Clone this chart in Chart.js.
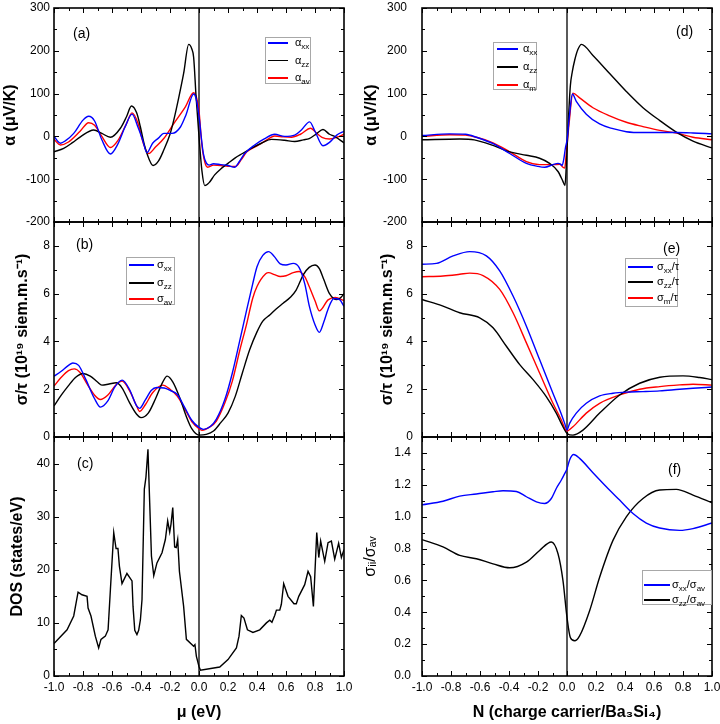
<!DOCTYPE html>
<html><head><meta charset="utf-8">
<script src="https://cdn.jsdelivr.net/npm/chart.js@4.4.0/dist/chart.umd.min.js"></script>
<style>
body{margin:0;background:#fff;}
#wrap{position:relative;width:720px;height:724px;overflow:hidden;font-family:'Liberation Sans',Arial,sans-serif;background:#fff;}
#wrap canvas{position:absolute;}
.leg{position:absolute;border:1px solid #a8a8a8;background:#fff;box-sizing:border-box;}
.leg .ln{position:absolute;height:1.8px;}
.leg .tx{position:absolute;line-height:14px;font-size:11px;white-space:nowrap;color:#000;}
.leg sub{font-size:8px;vertical-align:-3px;line-height:0;}
.plab{position:absolute;font-size:14px;line-height:16px;color:#000;}
</style></head>
<body><div id="wrap"></div>
<script>
// ---------- Panel (a): Seebeck coefficient vs chemical potential ----------
const a_xx_mu = [-1.0,-0.956,-0.92,-0.864,-0.8,-0.761,-0.72,-0.67,-0.611,-0.56,-0.51,-0.462,-0.42,-0.39,-0.359,-0.32,-0.28,-0.243,-0.186,-0.128,-0.09,-0.037,-0.02,0.0,0.015,0.03,0.05,0.07,0.1,0.15,0.2,0.245,0.28,0.315,0.384,0.45,0.522,0.591,0.66,0.706,0.763,0.8,0.855,0.9,0.95,1.0];
const a_xx    = [0,-16,-10,7,38,47,36,-8,-41,-18,22,52,21,-7,-38,-16,-4,7,7,22,50,99,88,48,0,-40,-62,-67,-64,-66,-68,-72,-58,-40,-20,-6,5,0,3,15,34,12,-22,-14,3,12];
const a_zz_mu = [-1.0,-0.933,-0.87,-0.818,-0.726,-0.67,-0.611,-0.542,-0.5,-0.466,-0.43,-0.404,-0.38,-0.359,-0.317,-0.28,-0.243,-0.2,-0.174,-0.14,-0.106,-0.071,-0.05,-0.037,-0.02,0.0,0.02,0.04,0.07,0.108,0.15,0.2,0.25,0.3,0.36,0.43,0.5,0.59,0.66,0.72,0.76,0.81,0.855,0.9,0.935,1.0];
const a_zz    = [-36,-28,-14,-1,15,7,-2,19,46,71,55,22,-15,-40,-68,-58,-32,5,38,90,147,215,205,185,92,0,-80,-115,-108,-90,-76,-63,-50,-40,-28,-16,-7,-9,-12,-8,-5,6,16,5,0,-15];
const a_av_mu = [-1.0,-0.956,-0.9,-0.82,-0.761,-0.72,-0.67,-0.611,-0.56,-0.5,-0.462,-0.42,-0.385,-0.348,-0.3,-0.243,-0.174,-0.094,-0.037,-0.015,0.0,0.02,0.04,0.06,0.1,0.15,0.2,0.253,0.29,0.33,0.4,0.46,0.522,0.58,0.637,0.7,0.77,0.81,0.848,0.9,0.95,1.0];
const a_av    = [-7,-20,-13,12,32,26,0,-26,-10,30,55,30,-15,-40,-25,-5,30,69,102,88,60,-20,-60,-72,-67,-68,-70,-70,-55,-36,-22,-10,1,-1,-2,5,19,8,-2,-6,-2,5];

// ---------- Panel (b): sigma/tau vs chemical potential ----------
const b_xx_mu = [-1.0,-0.95,-0.9,-0.87,-0.83,-0.78,-0.72,-0.68,-0.63,-0.58,-0.53,-0.48,-0.43,-0.41,-0.37,-0.33,-0.29,-0.24,-0.2,-0.15,-0.1,-0.05,0.0,0.03,0.08,0.12,0.18,0.23,0.28,0.33,0.37,0.4,0.44,0.48,0.52,0.56,0.6,0.65,0.69,0.73,0.76,0.8,0.83,0.86,0.89,0.93,0.97,1.0];
const b_xx    = [2.55,2.75,3.0,3.1,3.0,2.4,1.6,1.25,1.5,2.1,2.38,2.0,1.3,1.2,1.55,1.95,2.07,2.05,1.95,1.78,1.25,0.7,0.4,0.32,0.45,0.75,1.6,2.68,4.0,5.35,6.4,7.13,7.6,7.76,7.55,7.25,7.2,7.27,7.1,6.4,5.5,4.7,4.38,4.8,5.35,5.8,5.75,5.47];
const b_zz_mu = [-1.0,-0.95,-0.9,-0.85,-0.8,-0.75,-0.7,-0.67,-0.62,-0.57,-0.53,-0.48,-0.43,-0.4,-0.35,-0.3,-0.25,-0.22,-0.18,-0.13,-0.09,-0.05,0.0,0.05,0.1,0.15,0.2,0.25,0.3,0.35,0.4,0.44,0.49,0.53,0.58,0.63,0.67,0.72,0.76,0.8,0.83,0.86,0.9,0.95,0.98,1.0];
const b_zz    = [1.3,1.75,2.15,2.5,2.66,2.55,2.3,2.17,2.22,2.27,2.05,1.45,0.95,0.81,1.0,1.6,2.3,2.55,2.3,1.6,0.9,0.35,0.08,0.11,0.25,0.6,1.0,1.7,2.7,3.66,4.4,4.85,5.12,5.35,5.6,5.85,6.15,6.8,7.1,7.2,7.05,6.6,6.0,5.75,5.85,6.0];
const b_av_mu = [-1.0,-0.95,-0.9,-0.86,-0.82,-0.77,-0.72,-0.68,-0.63,-0.57,-0.53,-0.48,-0.43,-0.41,-0.37,-0.32,-0.25,-0.2,-0.15,-0.1,-0.05,0.0,0.02,0.07,0.12,0.18,0.23,0.28,0.33,0.37,0.4,0.46,0.48,0.52,0.56,0.6,0.65,0.69,0.73,0.76,0.8,0.83,0.89,0.94,1.0];
const b_av    = [2.13,2.5,2.78,2.85,2.7,2.2,1.75,1.57,1.75,2.2,2.34,1.95,1.3,1.07,1.35,1.85,2.17,2.0,1.71,1.2,0.65,0.35,0.28,0.4,0.67,1.45,2.34,3.6,4.77,5.8,6.3,6.83,6.88,6.8,6.72,6.75,6.88,6.93,6.7,6.3,5.7,5.28,5.74,5.84,5.71];

// ---------- Panel (c): density of states ----------
const dos_mu = [-1.0,-0.91,-0.864,-0.834,-0.807,-0.772,-0.765,-0.745,-0.715,-0.692,-0.676,-0.646,-0.627,-0.611,-0.588,-0.572,-0.559,-0.549,-0.531,-0.497,-0.462,-0.455,-0.443,-0.428,-0.416,-0.404,-0.393,-0.377,-0.366,-0.352,-0.34,-0.328,-0.312,-0.29,-0.255,-0.232,-0.216,-0.202,-0.193,-0.181,-0.168,-0.157,-0.147,-0.135,-0.106,-0.087,-0.037,-0.028,-0.018,0.0,0.01,0.143,0.2,0.258,0.276,0.292,0.31,0.334,0.372,0.419,0.465,0.488,0.503,0.522,0.534,0.557,0.568,0.584,0.614,0.655,0.671,0.688,0.729,0.752,0.77,0.789,0.812,0.826,0.839,0.867,0.89,0.913,0.936,0.963,0.982,1.0];
const dos    = [6.1,8.7,11.3,15.8,15.3,15.0,12.8,11.3,7.5,5.3,6.9,7.5,8.7,16.3,27.0,24.0,24.0,20.7,17.4,19.3,17.9,13.1,8.6,7.8,8.6,10.6,14.4,35.2,37.4,42.7,32.6,22.6,18.9,21.3,23.2,25.7,29.2,27.1,28.6,31.7,24.3,24.2,25.7,19.7,13.1,6.9,5.6,5.9,3.7,1.8,1.1,1.7,3.1,5.3,7.5,11.4,10.9,8.7,8.2,8.7,10.0,10.5,10.1,11.4,12.4,12.4,13.5,17.4,15.0,13.6,13.6,15.0,17.2,19.7,18.7,13.1,27.0,22.3,25.4,21.6,25.1,25.4,22.0,25.0,22.3,23.8];

// ---------- Panel (d): Seebeck vs carrier concentration ----------
const d_xx_N = [-1.0,-0.81,-0.7,-0.625,-0.51,-0.395,-0.28,-0.2,-0.154,-0.097,-0.062,-0.045,-0.034,-0.023,-0.01,0.0,0.018,0.037,0.064,0.133,0.225,0.317,0.409,0.524,0.64,0.754,0.869,1.0];
const d_xx   = [2,6,5,-2,-17,-40,-63,-70,-72,-66,-63,-65,-68,-55,-25,-9,52,99,82,52,29,18,11,9,9,9,8,6];
const d_zz_N = [-1.0,-0.74,-0.64,-0.51,-0.395,-0.28,-0.189,-0.12,-0.062,-0.028,-0.014,-0.005,0.007,0.023,0.037,0.053,0.075,0.1,0.179,0.294,0.409,0.524,0.64,0.754,0.869,1.0];
const d_zz   = [-8,-6,-8,-21,-36,-44,-51,-63,-82,-105,-115,-70,20,118,152,178,203,215,189,147,105,67,37,10,-11,-27];
const d_m_N  = [-1.0,-0.81,-0.7,-0.625,-0.51,-0.395,-0.28,-0.189,-0.097,-0.05,-0.028,-0.016,-0.005,0.014,0.041,0.087,0.179,0.294,0.409,0.524,0.64,0.754,0.869,1.0];
const d_m    = [0,4,3,-2,-15,-36,-59,-66,-66,-65,-72,-74,-40,29,101,90,67,48,33,23,14,8,-2,-8];

// ---------- Panel (e): sigma/tau vs carrier concentration ----------
const e_xx_N = [-1.0,-0.9,-0.786,-0.671,-0.556,-0.464,-0.372,-0.28,-0.189,-0.097,-0.05,-0.016,0.0,0.018,0.064,0.133,0.225,0.317,0.409,0.524,0.64,0.777,0.869,1.0];
const e_xx   = [7.23,7.27,7.58,7.76,7.58,6.95,5.9,4.64,3.24,1.83,1.13,0.57,0.29,0.57,1.0,1.41,1.72,1.83,1.88,1.9,1.93,2.0,2.04,2.09];
const e_zz_N = [-1.0,-0.855,-0.74,-0.602,-0.51,-0.418,-0.326,-0.234,-0.143,-0.074,-0.028,0.0,0.041,0.11,0.225,0.363,0.501,0.64,0.8,0.915,1.0];
const e_zz   = [5.76,5.48,5.2,4.99,4.57,3.8,3.03,2.4,1.69,1.0,0.43,0.15,0.08,0.29,1.0,1.76,2.25,2.5,2.56,2.49,2.4];
const e_m_N  = [-1.0,-0.855,-0.74,-0.671,-0.579,-0.464,-0.372,-0.28,-0.189,-0.097,-0.039,-0.009,0.0,0.041,0.133,0.225,0.363,0.501,0.64,0.777,0.869,1.0];
const e_m    = [6.71,6.74,6.81,6.86,6.76,6.18,5.2,3.94,2.68,1.41,0.71,0.29,0.25,0.43,1.0,1.41,1.76,2.0,2.11,2.18,2.21,2.17];

// ---------- Panel (f): anisotropy ratio ----------
const f_xx_N = [-1.0,-0.855,-0.74,-0.625,-0.51,-0.441,-0.349,-0.28,-0.211,-0.154,-0.108,-0.074,-0.039,-0.016,0.0,0.018,0.046,0.087,0.179,0.271,0.363,0.455,0.547,0.639,0.777,0.869,1.0];
const f_xx   = [1.074,1.097,1.129,1.142,1.156,1.163,1.158,1.125,1.093,1.083,1.114,1.177,1.23,1.27,1.30,1.356,1.39,1.366,1.276,1.188,1.104,1.02,0.96,0.929,0.914,0.925,0.96];
const f_zz_N = [-1.0,-0.855,-0.74,-0.625,-0.51,-0.395,-0.28,-0.189,-0.108,-0.062,-0.028,0.0,0.023,0.053,0.087,0.156,0.225,0.317,0.409,0.524,0.639,0.754,0.869,1.0];
const f_zz   = [0.856,0.81,0.757,0.736,0.704,0.679,0.715,0.788,0.841,0.767,0.6,0.368,0.242,0.221,0.252,0.41,0.62,0.851,0.999,1.114,1.167,1.171,1.135,1.087];

// ---------- Labels ----------
const legA = ['α<sub>xx</sub>','α<sub>zz</sub>','α<sub>av</sub>'];
const legB = ['σ<sub>xx</sub>','σ<sub>zz</sub>','σ<sub>av</sub>'];
const legD = ['α<sub>xx</sub>','α<sub>zz</sub>','α<sub>m</sub>'];
const legE = ['σ<sub>xx</sub>/τ','σ<sub>zz</sub>/τ','σ<sub>m</sub>/τ'];
const legF = ['σ<sub>xx</sub>/σ<sub>av</sub>','σ<sub>zz</sub>/σ<sub>av</sub>'];
const colors = ['#0000ff','#000000','#ff0000'];

const FONT = "'Liberation Sans', Arial, sans-serif";
const wrap = document.getElementById('wrap');
const zip = (xs, ys) => xs.map((x, i) => ({x: x, y: ys[i]}));

const frameTicks = {
  id: 'frameTicks',
  beforeDatasetsDraw(chart) {
    const {ctx, chartArea: a, scales: {x}} = chart;
    const x0 = x.getPixelForValue(0);
    ctx.save();
    ctx.strokeStyle = '#000'; ctx.lineWidth = 1.3;
    ctx.beginPath(); ctx.moveTo(x0, a.top); ctx.lineTo(x0, a.bottom); ctx.stroke();
    ctx.restore();
  },
  afterDatasetsDraw(chart, args, o) {
    const {ctx, chartArea: a, scales: {x, y}} = chart;
    ctx.save();
    ctx.strokeStyle = '#000'; ctx.lineWidth = 1;
    ctx.beginPath();
    const nx = Math.round((x.max - x.min) / o.xMinor);
    for (let i = 0; i <= nx; i++) {
      const v = x.min + i * o.xMinor;
      const r = v / o.xMajor; const maj = Math.abs(r - Math.round(r)) < 1e-6;
      const L = maj ? 5 : 3; const px = Math.round(x.getPixelForValue(v)) + 0.5;
      ctx.moveTo(px, a.bottom); ctx.lineTo(px, a.bottom - L);
      ctx.moveTo(px, a.top); ctx.lineTo(px, a.top + L);
    }
    const ny = Math.round((y.max - y.min) / o.yMinor);
    for (let i = 0; i <= ny; i++) {
      const v = y.min + i * o.yMinor;
      const r = v / o.yMajor; const maj = Math.abs(r - Math.round(r)) < 1e-6;
      const L = maj ? 5 : 3; const py = Math.round(y.getPixelForValue(v)) + 0.5;
      ctx.moveTo(a.left, py); ctx.lineTo(a.left + L, py);
      ctx.moveTo(a.right, py); ctx.lineTo(a.right - L, py);
    }
    ctx.stroke();
    ctx.lineWidth = 1.6;
    ctx.strokeRect(a.left, a.top, a.right - a.left, a.bottom - a.top);
    ctx.restore();
  }
};

function panel(c) {
  const cv = document.createElement('canvas');
  cv.width = c.w; cv.height = c.h;
  cv.style.left = c.left + 'px'; cv.style.top = c.top + 'px';
  cv.style.width = c.w + 'px'; cv.style.height = c.h + 'px';
  wrap.appendChild(cv);
  return new Chart(cv, {
    type: 'line',
    data: {datasets: c.series.map(s => ({
      label: s.label, data: zip(s.x, s.y), borderColor: s.color, backgroundColor: s.color,
      borderWidth: 1.4, pointRadius: 0, fill: false,
      cubicInterpolationMode: s.sharp ? 'default' : 'monotone', tension: 0
    }))},
    options: {
      responsive: false, animation: false, devicePixelRatio: 1,
      layout: {padding: c.pad},
      plugins: {legend: {display: false}, tooltip: {enabled: false},
        frameTicks: {xMinor: 0.1, xMajor: 0.2, yMinor: c.yMinor, yMajor: c.yStep}},
      scales: {
        x: {
          type: 'linear', min: -1, max: 1,
          grid: {display: false, drawTicks: false}, border: {display: false},
          ticks: {display: !!c.xTitle, stepSize: 0.2, includeBounds: false, padding: 4, maxRotation: 0, autoSkip: false,
            color: '#000', font: {family: FONT, size: 12},
            callback: v => (Math.abs(v) < 1e-9 ? 0 : v).toFixed(1)},
          title: {display: !!c.xTitle, text: c.xTitle || '', color: '#000',
            font: {family: FONT, size: 16, weight: 'bold'}, padding: {top: 0, bottom: 1.4}},
          afterFit(s) { s.height = c.xHeight; s.paddingLeft = 0; s.paddingRight = 0; }
        },
        y: {
          type: 'linear', min: c.yMin, max: c.yMax,
          grid: {display: false, drawTicks: false}, border: {display: false},
          ticks: {stepSize: c.yStep, includeBounds: false, padding: c.yLabPad,
            color: '#000', font: {family: FONT, size: 12},
            callback: c.yFmt},
          title: {display: true, text: c.yTitle, color: '#000',
            font: {family: FONT, size: 16, weight: c.yTitleWeight || 'bold'}, padding: {top: c.yTitlePad, bottom: 0}},
          afterFit(s) { s.width = c.yWidth; s.paddingTop = 0; s.paddingBottom = 0; }
        }
      }
    },
    plugins: [frameTicks]
  });
}

const intFmt = v => String(Math.round(v));
const dec1 = v => (Math.abs(v) < 1e-9 ? 0 : v).toFixed(1);

const L = {left: 0, w: 360, yWidth: 54, padL: 0, padR: 16};
const R = {left: 360, w: 360, yWidth: 62, padL: 0, padR: 8};
const rowA = {top: 0, h: 232, pt: 8, pb: 10, xHeight: 0};
const rowB = {top: 214, h: 232, pt: 8, pb: 9, xHeight: 0};
const rowC = {top: 430, h: 294, pt: 7, pb: 0, xHeight: 48};

function mk(col, row, extra) {
  return panel(Object.assign({
    left: col.left, w: col.w, top: row.top, h: row.h, yWidth: col.yWidth, xHeight: row.xHeight,
    pad: {left: col.padL, right: col.padR, top: row.pt, bottom: row.pb}
  }, extra));
}

mk(L, rowA, {yMin: -200, yMax: 300, yStep: 100, yMinor: 50, yLabPad: 4, yFmt: intFmt,
  yTitle: 'α (μV/K)', yTitlePad: 1.4,
  series: [{label: 'αxx', x: a_xx_mu, y: a_xx, color: colors[0]},
           {label: 'αzz', x: a_zz_mu, y: a_zz, color: colors[1]},
           {label: 'αav', x: a_av_mu, y: a_av, color: colors[2]}]});
mk(L, rowB, {yMin: 0, yMax: 9, yStep: 2, yMinor: 1, yLabPad: 4, yFmt: intFmt,
  yTitle: 'σ/τ (10¹⁹ siem.m.s⁻¹)', yTitlePad: 13,
  series: [{label: 'σxx', x: b_xx_mu, y: b_xx, color: colors[0]},
           {label: 'σzz', x: b_zz_mu, y: b_zz, color: colors[1]},
           {label: 'σav', x: b_av_mu, y: b_av, color: colors[2]}]});
mk(L, rowC, {yMin: 0, yMax: 45, yStep: 10, yMinor: 5, yLabPad: 4, yFmt: intFmt,
  yTitle: 'DOS (states/eV)', yTitlePad: 8.4, xTitle: 'μ (eV)',
  series: [{label: 'DOS', x: dos_mu, y: dos, color: colors[1], sharp: true}]});
mk(R, rowA, {yMin: -200, yMax: 300, yStep: 100, yMinor: 50, yLabPad: 15, yFmt: intFmt,
  yTitle: 'α (μV/K)', yTitlePad: 2.4,
  series: [{label: 'αxx', x: d_xx_N, y: d_xx, color: colors[0]},
           {label: 'αzz', x: d_zz_N, y: d_zz, color: colors[1]},
           {label: 'αm', x: d_m_N, y: d_m, color: colors[2]}]});
mk(R, rowB, {yMin: 0, yMax: 9, yStep: 2, yMinor: 1, yLabPad: 9, yFmt: intFmt,
  yTitle: 'σ/τ (10¹⁹ siem.m.s⁻¹)', yTitlePad: 18,
  series: [{label: 'σxx/τ', x: e_xx_N, y: e_xx, color: colors[0]},
           {label: 'σzz/τ', x: e_zz_N, y: e_zz, color: colors[1]},
           {label: 'σm/τ', x: e_m_N, y: e_m, color: colors[2]}]});
mk(R, rowC, {yMin: 0, yMax: 1.5, yStep: 0.2, yMinor: 0.1, yLabPad: 11, yFmt: dec1,
  yTitle: 'σᵢᵢ/σₐᵥ', yTitlePad: 1.4, yTitleWeight: 'normal', xTitle: 'N (charge carrier/Ba₃Si₄)',
  series: [{label: 'σxx/σav', x: f_xx_N, y: f_xx, color: colors[0]},
           {label: 'σzz/σav', x: f_zz_N, y: f_zz, color: colors[1]}]});

// ---------- legends & panel labels (HTML text) ----------
function legend(b, labels) {
  const d = document.createElement('div'); d.className = 'leg';
  d.style.left = b.l + 'px'; d.style.top = b.t + 'px'; d.style.width = b.w + 'px'; d.style.height = b.h + 'px';
  labels.forEach((html, i) => {
    const ln = document.createElement('div'); ln.className = 'ln';
    ln.style.left = b.lx + 'px'; ln.style.top = (b.oy[i] - 0.9) + 'px'; ln.style.width = b.ll + 'px';
    ln.style.background = colors[i];
    const tx = document.createElement('div'); tx.className = 'tx';
    tx.style.left = b.tx + 'px'; tx.style.top = (b.oy[i] - 8) + 'px';
    tx.innerHTML = html;
    d.appendChild(ln); d.appendChild(tx);
  });
  wrap.appendChild(d);
}
legend({l: 265, t: 37, w: 46, h: 47, lx: 2, ll: 20, tx: 29, oy: [5, 22.5, 40]}, legA);
legend({l: 126, t: 257, w: 49, h: 48, lx: 2, ll: 25, tx: 30, oy: [7, 24.7, 41.3]}, legB);
legend({l: 493, t: 42, w: 44, h: 48, lx: 3, ll: 21, tx: 29, oy: [6, 23.7, 42]}, legD);
legend({l: 625, t: 258, w: 53, h: 49, lx: 2, ll: 25, tx: 31, oy: [8, 23, 38.7]}, legE);
legend({l: 642, t: 570, w: 70, h: 35, lx: 1, ll: 26, tx: 29, oy: [14, 29]}, legF);

const plabs = [['(a)', 73, 33], ['(b)', 76, 244], ['(c)', 77, 463], ['(d)', 676, 31], ['(e)', 663, 248], ['(f)', 668, 469]];
plabs.forEach(p => {
  const d = document.createElement('div'); d.className = 'plab';
  d.textContent = p[0]; d.style.left = p[1] + 'px'; d.style.top = (p[2] - 8) + 'px';
  wrap.appendChild(d);
});
</script>
</body></html>
